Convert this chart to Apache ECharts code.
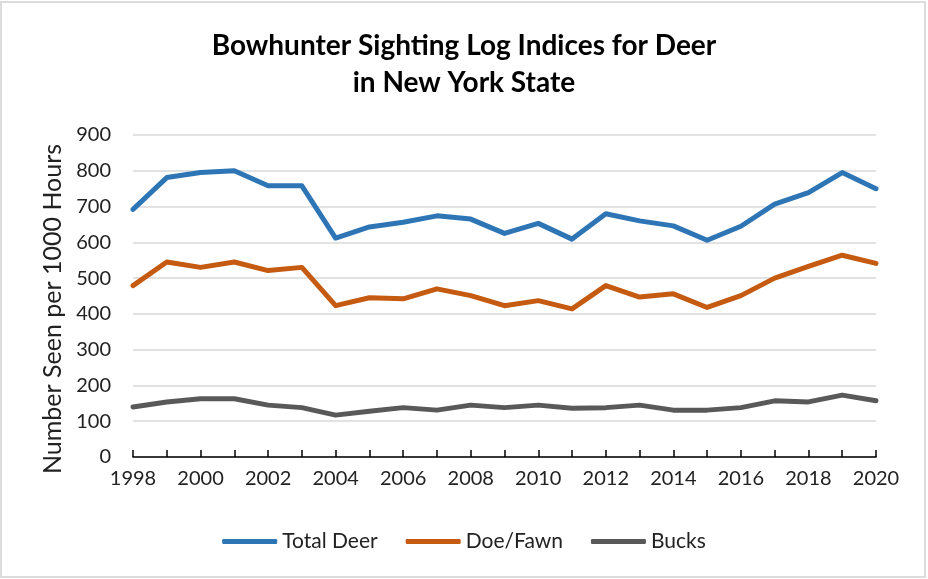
<!DOCTYPE html>
<html>
<head>
<meta charset="utf-8">
<script src="https://cdn.jsdelivr.net/npm/echarts@6/dist/echarts.min.js"></script>
<style>
  html, body { margin: 0; padding: 0; background: #fff; }
  #main { width: 928px; height: 579px; }
</style>
</head>
<body>
<div id="main"></div>
<script>
const years = ['1998', '1999', '2000', '2001', '2002', '2003', '2004', '2005', '2006', '2007', '2008',
  '2009', '2010', '2011', '2012', '2013', '2014', '2015', '2016', '2017', '2018', '2019', '2020']

const totalDeer = [692, 781, 795, 800, 758, 758, 612, 643, 656, 674, 665,
  625, 653, 609, 680, 660, 646, 606, 645, 707, 739, 795, 750]

const doeFawn = [479, 545, 530, 545, 521, 530, 423, 445, 442, 470, 451,
  423, 437, 414, 479, 447, 456, 418, 451, 500, 533, 564, 541]

const bucks = [140, 154, 163, 163, 145, 138, 117, 128, 138, 131, 145,
  138, 145, 136, 138, 145, 131, 131, 138, 157, 154, 173, 157]

const FONT = 'Lato'

function makeSeries(name, data, color) {
  return {
    name,
    type: 'line',
    data,
    showSymbol: false,
    symbol: 'none',
    lineStyle: { width: 5, color, cap: 'round', join: 'round' },
    itemStyle: { color },
  }
}

const chart = echarts.init(document.getElementById('main'))

chart.setOption({
  animation: false,
  backgroundColor: '#fff',
  graphic: [{
    type: 'rect',
    shape: { x: 1, y: 2, width: 924, height: 575 },
    style: { fill: 'none', stroke: '#dcdcdc', lineWidth: 2 },
  }],
  title: {
    text: 'Bowhunter Sighting Log Indices for Deer\nin New York State',
    left: 'center',
    top: 22,
    textStyle: {
      fontFamily: FONT,
      fontSize: 28,
      fontWeight: 'bold',
      color: '#000',
      lineHeight: 37,
    },
  },
  legend: {
    bottom: 22,
    left: 'center',
    icon: 'roundRect',
    itemWidth: 55,
    itemHeight: 5,
    itemGap: 28,
    textStyle: { fontFamily: FONT, fontSize: 21, color: '#222' },
    data: ['Total Deer', 'Doe/Fawn', 'Bucks'],
  },
  grid: { left: 133, right: 52, top: 135, bottom: 122 },
  xAxis: {
    type: 'category',
    data: years,
    boundaryGap: false,
    axisLine: { lineStyle: { color: '#000', width: 1.5 } },
    axisTick: { inside: true, length: 7, interval: 0, lineStyle: { color: '#000', width: 1.5 } },
    axisLabel: { interval: 1, fontFamily: FONT, fontSize: 20, color: '#222', margin: 12 },
    splitLine: { show: false },
  },
  yAxis: {
    type: 'value',
    min: 0,
    max: 900,
    interval: 100,
    name: 'Number Seen per 1000 Hours',
    nameLocation: 'middle',
    nameGap: 68,
    nameTextStyle: { fontFamily: FONT, fontSize: 25, color: '#222', padding: [0, 26, 0, 0] },
    axisLine: { show: false },
    axisTick: { show: false },
    axisLabel: { fontFamily: FONT, fontSize: 20, color: '#222', margin: 22 },
    splitLine: { lineStyle: { color: '#d9d9d9', width: 1.5 } },
  },
  series: [
    makeSeries('Total Deer', totalDeer, '#2e75b6'),
    makeSeries('Doe/Fawn', doeFawn, '#c55a11'),
    makeSeries('Bucks', bucks, '#595959'),
  ],
})
</script>
</body>
</html>
